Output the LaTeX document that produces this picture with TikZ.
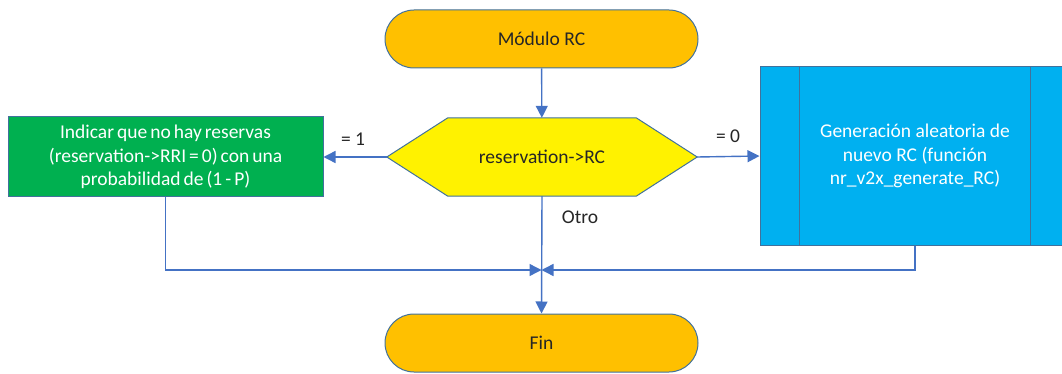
\documentclass[tikz,border=0pt]{standalone}
\usepackage{fontspec}
\setmainfont{Carlito}
\usetikzlibrary{arrows.meta}
\definecolor{lineblue}{HTML}{4472C4}
\definecolor{edgeblue}{HTML}{41719C}
\definecolor{termfill}{HTML}{FFC000}
\definecolor{procgreen}{HTML}{00B050}
\definecolor{subblue}{HTML}{00B0F0}
\definecolor{txtdark}{HTML}{262626}
% narrow inter-word spaces for the left box text
\newcommand{\narrowwords}{\spaceskip=3pt\relax}
\tikzset{
  x=1pt, y=-1pt,
  every node/.style={font=\fontsize{19.5}{23.5}\selectfont, text=txtdark},
  terminal/.style={draw=edgeblue, line width=1pt, fill=termfill, rounded corners=29pt,
    minimum width=313pt, minimum height=58pt, inner sep=0pt},
  procbox/.style={draw=edgeblue, line width=1pt, fill=procgreen, text=white,
    minimum width=315pt, minimum height=80pt, inner sep=0pt, align=center},
  subbox/.style={draw=edgeblue, line width=1pt, fill=subblue, text=white,
    minimum width=310pt, minimum height=178pt, inner sep=0pt, align=center},
  hexbox/.style={minimum width=310pt, minimum height=78pt, inner sep=0pt},
  flow/.style={draw=lineblue, line width=1.4pt, -{Triangle[length=12pt,width=12pt]}},
  edgelabel/.style={inner sep=0pt},
}
\begin{document}
\begin{tikzpicture}
\useasboundingbox (0,0) rectangle (1062,374);

% start / end terminals
\node[terminal] (start) at (541.5,39) {Módulo RC};
\node[terminal] (fin) at (541.5,343) {Fin};

% decision hexagon
\node[hexbox] (dec) at (542,157) {};
\draw[draw=edgeblue, line width=1pt, fill=yellow]
  (dec.west) -- ([xshift=61pt]dec.north west) -- ([xshift=-61pt]dec.north east)
  -- (dec.east) -- ([xshift=-61pt]dec.south east) -- ([xshift=61pt]dec.south west) -- cycle;
\node at (dec.center) {reservation->RC};

% process on the left
\node[procbox] (left) at (165.5,157) {\narrowwords Indicar que no hay reservas\\\narrowwords(reservation->RRI = 0) con una\\\narrowwords probabilidad de (1 - P)};

% predefined process on the right
\node[subbox] (right) at (915,156) {Generación aleatoria de\\nuevo RC (función\\nr\_v2x\_generate\_RC)};
\draw[edgeblue, line width=1pt] ([xshift=40pt]right.north west) -- ([xshift=40pt]right.south west);
\draw[edgeblue, line width=1pt] ([xshift=-40pt]right.north east) -- ([xshift=-40pt]right.south east);

% merge point above the end terminal
\coordinate (m) at (541.5,270);

% connectors
\draw[flow] (start) -- (dec);
\draw[flow] (dec.west) -- (left.east);
\draw[flow] (dec.east) -- (right.west);
\draw[flow] (dec.south) -- (fin.north);
\draw[flow] (left.south) |- (m);
\draw[flow] (right.south) |- (m);

% branch labels
\node[edgelabel] (l1) at (353,139) {= 1};
\node[edgelabel] (l0) at (728,136) {= 0};
\node[edgelabel] (lo) at (580,217) {Otro};
\end{tikzpicture}
\end{document}
